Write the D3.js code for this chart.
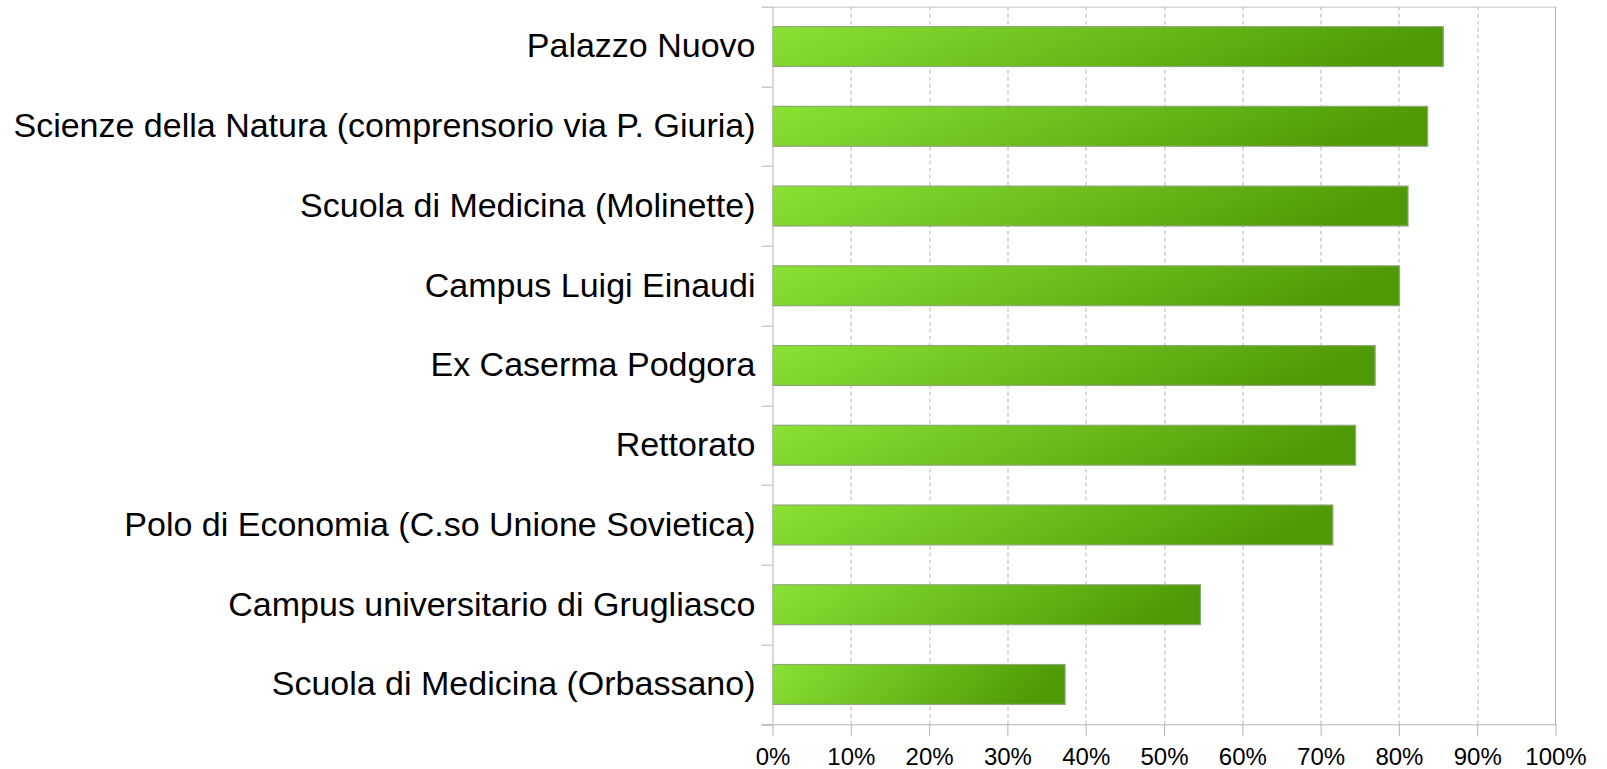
<!DOCTYPE html>
<html>
<head>
<meta charset="utf-8">
<script src="https://cdn.jsdelivr.net/npm/d3@7"></script>
<style>
  body { margin: 0; background: #fff; }
  svg { display: block; font-family: "Liberation Sans", Arial, sans-serif; }
</style>
</head>
<body>
<div id="chart"></div>
<script>
var categories = [
  "Palazzo Nuovo",
  "Scienze della Natura (comprensorio via P. Giuria)",
  "Scuola di Medicina (Molinette)",
  "Campus Luigi Einaudi",
  "Ex Caserma Podgora",
  "Rettorato",
  "Polo di Economia (C.so Unione Sovietica)",
  "Campus universitario di Grugliasco",
  "Scuola di Medicina (Orbassano)"
];
var values = [0.856, 0.836, 0.811, 0.800, 0.769, 0.744, 0.715, 0.546, 0.373];
var xTicks = [0, 0.1, 0.2, 0.3, 0.4, 0.5, 0.6, 0.7, 0.8, 0.9, 1.0];

var W = 1607, H = 769;
var m = {left: 772.5, top: 6.7};
var w = 783, h = 717.6;

var svg = d3.select("#chart").append("svg")
  .attr("width", W).attr("height", H);

var defs = svg.append("defs");
var grad = defs.append("linearGradient")
  .attr("id", "barGrad")
  .attr("x1", "0").attr("y1", "0").attr("x2", "1").attr("y2", "0.15");
grad.append("stop").attr("offset", "0%").attr("stop-color", "#8ae234");
grad.append("stop").attr("offset", "100%").attr("stop-color", "#4e9a06");

var g = svg.append("g").attr("transform", "translate(" + m.left + "," + m.top + ")");

var x = d3.scaleLinear().domain([0, 1]).range([0, w]);
var y = d3.scaleBand().domain(categories).range([0, h]).paddingInner(0.5).paddingOuter(0.25);

// dashed grid
g.selectAll(".grid")
  .data(xTicks.slice(1, -1))
  .enter().append("line")
  .attr("class", "grid")
  .attr("x1", function(d) { return Math.round(x(d)) + 0.5; })
  .attr("x2", function(d) { return Math.round(x(d)) + 0.5; })
  .attr("y1", 0).attr("y2", h)
  .attr("stroke", "#b3b3b3")
  .attr("stroke-dasharray", "4,3");

// top and right border
g.append("line").attr("x1", 0).attr("x2", w).attr("y1", 0.5).attr("y2", 0.5).attr("stroke", "#c8c8c8");
g.append("line").attr("x1", w).attr("x2", w).attr("y1", 0).attr("y2", h).attr("stroke", "#b3b3b3");

// bars
g.selectAll(".bar")
  .data(values)
  .enter().append("rect")
  .attr("class", "bar")
  .attr("x", x(0) + 0.5)
  .attr("y", function(d, i) { return y(categories[i]); })
  .attr("width", function(d) { return x(d) - x(0); })
  .attr("height", y.bandwidth())
  .attr("fill", "url(#barGrad)")
  .attr("stroke", "#8fa67a")
  .attr("stroke-width", 1.2);

// x axis
var xAxis = g.append("g")
  .attr("transform", "translate(0," + h + ")")
  .call(d3.axisBottom(x).tickValues(xTicks).tickFormat(d3.format(".0%")).tickSize(12).tickPadding(11.7).tickSizeOuter(0));
xAxis.select(".domain").attr("stroke", "#b3b3b3");
xAxis.selectAll(".tick line").attr("stroke", "#b3b3b3");
xAxis.selectAll(".tick text").attr("font-size", "24px").attr("fill", "#000")
  .style("font-family", "'Liberation Sans', Arial, sans-serif");

// extend x axis line left to meet y ticks
g.append("line").attr("x1", -11).attr("x2", 0).attr("y1", h + 0.5).attr("y2", h + 0.5).attr("stroke", "#b3b3b3");

// y axis line
g.append("line").attr("x1", 0.5).attr("x2", 0.5).attr("y1", 0).attr("y2", h).attr("stroke", "#b3b3b3");

// band separator ticks
g.selectAll(".ytick")
  .data(d3.range(categories.length + 1))
  .enter().append("line")
  .attr("class", "ytick")
  .attr("x1", -11).attr("x2", 0)
  .attr("y1", function(i) { return Math.round(i * y.step()) + 0.5; })
  .attr("y2", function(i) { return Math.round(i * y.step()) + 0.5; })
  .attr("stroke", "#b3b3b3");

// category labels
var yAxis = g.append("g")
  .call(d3.axisLeft(y).tickSize(0).tickPadding(17));
yAxis.select(".domain").remove();
yAxis.selectAll(".tick text").attr("font-size", "34px").attr("fill", "#000")
  .style("font-family", "'Liberation Sans', Arial, sans-serif");
</script>
</body>
</html>
